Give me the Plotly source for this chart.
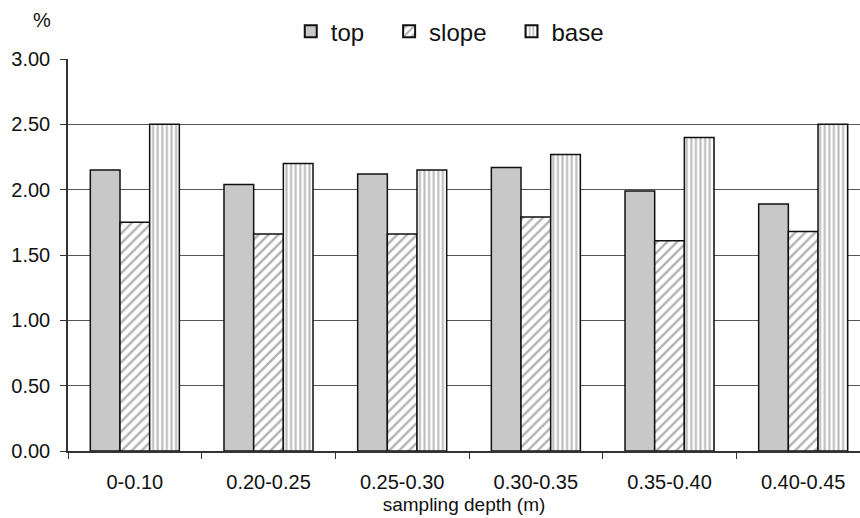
import plotly.graph_objects as go

# Sampling depths along the transect profile
depths = ["0-0.10", "0.20-0.25", "0.25-0.30", "0.30-0.35", "0.35-0.40", "0.40-0.45"]

# Content (%) by slope position
top = [2.15, 2.04, 2.12, 2.17, 1.99, 1.89]
slope = [1.75, 1.66, 1.66, 1.79, 1.61, 1.68]
base = [2.50, 2.20, 2.15, 2.27, 2.40, 2.50]

y_ticks = [0, 0.5, 1.0, 1.5, 2.0, 2.5, 3.0]

FONT = "Arial, Liberation Sans, sans-serif"
edge = dict(color="#111111", width=1.5)
PAD = "\u00a0" * 3  # extra room between legend entries

fig = go.Figure()
fig.add_trace(go.Bar(
    name="top" + PAD, x=depths, y=top,
    marker=dict(color="#c8c8c8", line=edge),
))
fig.add_trace(go.Bar(
    name="slope" + PAD, x=depths, y=slope,
    marker=dict(color="white", line=edge,
                pattern=dict(shape="/", fgcolor="#666666", bgcolor="white",
                             size=7, solidity=0.35)),
))
fig.add_trace(go.Bar(
    name="base", x=depths, y=base,
    marker=dict(color="white", line=edge,
                pattern=dict(shape="|", fgcolor="#777777", bgcolor="white",
                             size=4.6, solidity=0.45)),
))

fig.update_layout(
    width=860, height=518,
    margin=dict(l=68, r=0, t=59, b=67),
    paper_bgcolor="white", plot_bgcolor="white",
    barmode="group", bargap=0.334, bargroupgap=0,
    font=dict(family=FONT, size=20, color="#111111"),
    showlegend=True,
    legend=dict(orientation="h", x=0.482, xanchor="center", y=1.07, yanchor="middle",
                font=dict(size=24, family=FONT), itemsizing="constant",
                bgcolor="rgba(0,0,0,0)", traceorder="normal"),
    xaxis=dict(
        range=[-0.5, 5.425],
        tickson="boundaries", ticks="outside", ticklen=6, tickcolor="#333333",
        showline=True, linecolor="#333333", linewidth=1.5,
        showgrid=False, tickfont=dict(size=20), ticklabelstandoff=12,
        title=dict(text="sampling depth (m)", font=dict(size=19), standoff=6),
    ),
    yaxis=dict(
        range=[0, 3.0], tickvals=y_ticks, tickformat=".2f",
        ticks="outside", ticklen=6, tickcolor="#333333",
        showline=True, linecolor="#333333", linewidth=1.5,
        showgrid=True, gridcolor="#555555", gridwidth=1,
        zeroline=False, tickfont=dict(size=20), ticklabelstandoff=6,
    ),
    annotations=[dict(text="%", xref="paper", yref="paper", x=-0.033, y=1.1,
                      xanchor="center", yanchor="middle", showarrow=False,
                      font=dict(size=20))],
)

fig.write_html("out.html")
